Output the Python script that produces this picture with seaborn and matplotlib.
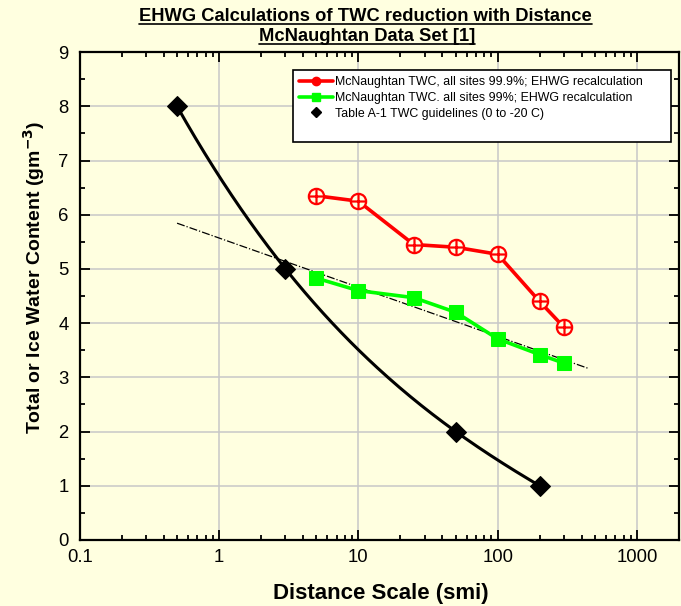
import numpy as np
import pandas as pd
import matplotlib
matplotlib.use('Agg')
import matplotlib.pyplot as plt
import seaborn as sns
from matplotlib.path import Path
from matplotlib.lines import Line2D
from matplotlib.ticker import FixedLocator, FuncFormatter, MultipleLocator, LogLocator, NullFormatter


# data
dist_red = [5, 10, 25, 50, 100, 200, 300]
twc_red = [6.35, 6.25, 5.45, 5.40, 5.27, 4.40, 3.92]

dist_green = [5, 10, 25, 50, 100, 200, 300]
twc_green = [4.83, 4.60, 4.47, 4.20, 3.71, 3.42, 3.26]

dist_table = [0.5, 3, 50, 200]
twc_table = [8, 5, 2, 1]

x_ticks = [0.1, 1, 10, 100, 1000]

label_red = 'McNaughtan TWC, all sites 99.9%; EHWG recalculation'
label_green = 'McNaughtan TWC. all sites 99%; EHWG recalculation'
label_table = 'Table A-1 TWC guidelines (0 to -20 C)'

bg = '#FFFFE0'

# smooth curve through the guideline points (cubic in log distance)
coef = np.polyfit(np.log10(dist_table), twc_table, 3)
xs = np.logspace(np.log10(dist_table[0]), np.log10(dist_table[-1]), 200)
curve = pd.DataFrame({'x': xs, 'y': np.polyval(coef, np.log10(xs))})

# log-linear trend of the 99% series
lin = np.polyfit(np.log10(dist_green), twc_green, 1)
xt = np.logspace(np.log10(0.5), np.log10(450), 50)
trend = pd.DataFrame({'x': xt, 'y': np.polyval(lin, np.log10(xt))})

# circle with a plus inside
oplus = Path.make_compound_path(
    Path.unit_circle(),
    Path([[-1, 0], [1, 0], [0, -1], [0, 1]],
         [Path.MOVETO, Path.LINETO, Path.MOVETO, Path.LINETO]))


# plot
sns.set_style('ticks')
plt.rcParams['font.family'] = ['Liberation Sans', 'DejaVu Sans']
plt.rcParams['text.color'] = 'black'
plt.rcParams['axes.labelcolor'] = 'black'

fig = plt.figure(figsize=(6.81, 6.06), dpi=100, facecolor=bg)
ax = fig.add_axes([0.117, 0.109, 0.88, 0.805], facecolor=bg)
ax.set_xscale('log')

sns.lineplot(x='x', y='y', data=trend, ax=ax, color='black', lw=0.9,
             linestyle='-.', zorder=2)
sns.lineplot(x='x', y='y', data=curve, ax=ax, color='black', lw=2.2, zorder=3)
sns.lineplot(x=dist_table, y=twc_table, ax=ax, color='black', lw=0, marker='D',
             markersize=10, mec='black', zorder=4)

sns.lineplot(x=dist_green, y=twc_green, ax=ax, color='#00FF00', lw=2.6,
             marker='s', markersize=10, mec='#00FF00', zorder=4)
sns.lineplot(x=dist_red, y=twc_red, ax=ax, color='#FF0000', lw=2.6,
             marker=oplus, markersize=11, mfc=bg, mec='#FF0000', mew=1.6, zorder=5)

ax.set_xlim(0.1, 2000)
ax.set_ylim(0, 9)

ax.xaxis.set_major_locator(FixedLocator(x_ticks))
ax.xaxis.set_major_formatter(FuncFormatter(lambda v, p: '%g' % v))
ax.xaxis.set_minor_locator(LogLocator(base=10, subs=np.arange(2, 10)))
ax.xaxis.set_minor_formatter(NullFormatter())
ax.yaxis.set_major_locator(MultipleLocator(1))
ax.yaxis.set_minor_locator(MultipleLocator(0.5))

ax.tick_params(which='both', direction='in', top=True, right=True,
               labelsize=13.3, width=1.3, colors='black')
ax.tick_params(axis='x', pad=6.5)
ax.tick_params(axis='y', pad=8)
ax.tick_params(which='major', length=7)
ax.tick_params(which='minor', length=3.5)

ax.grid(True, which='major', color='#C8C8C8', lw=1.1)
ax.set_axisbelow(True)
for s in ax.spines.values():
    s.set_linewidth(1.6)
    s.set_color('black')

ax.set_xlabel('Distance Scale (smi)', fontsize=16, fontweight='bold')
ax.set_ylabel('Total or Ice Water Content (gm$^\\mathbf{-3}$)', fontsize=14,
              fontweight='bold')
ax.xaxis.set_label_coords(0.502, -0.088)
ax.yaxis.set_label_coords(-0.055, 0.537)

handles = [
    Line2D([], [], color='#FF0000', lw=2.6, marker=oplus, markersize=6,
           mfc='#FF0000', mec='#FF0000'),
    Line2D([], [], color='#00FF00', lw=2.6, marker='s', markersize=5.5),
    Line2D([], [], color='black', lw=0, marker='D', markersize=5.5),
    Line2D([], [], lw=0),
]
# legend box spans roughly x 293-671 px, top at y 69 px
leg = ax.legend(handles, [label_red, label_green, label_table, ' '],
                loc='upper left', bbox_to_anchor=(0.356, 0.0, 0.631, 0.963),
                mode='expand', fontsize=8.9,
                frameon=True, fancybox=False, shadow=False, handlelength=2.7,
                handletextpad=0.2, borderpad=0.5, labelspacing=0.3,
                borderaxespad=0)
leg.get_frame().set_edgecolor('black')
leg.get_frame().set_linewidth(1.2)
leg.get_frame().set_facecolor('white')
leg.get_frame().set_alpha(1)

# underlined two-line title
t1 = fig.text(0.537, 0.972, 'EHWG Calculations of TWC reduction with Distance',
              ha='center', va='center', fontsize=13.2, fontweight='bold')
t2 = fig.text(0.539, 0.940, 'McNaughtan Data Set [1]',
              ha='center', va='center', fontsize=13.2, fontweight='bold')
fig.canvas.draw()
r = fig.canvas.get_renderer()
W, H = fig.bbox.width, fig.bbox.height
for t in (t1, t2):
    bb = t.get_window_extent(r)
    y = (bb.y0 + 1) / H
    fig.add_artist(Line2D([bb.x0 / W, bb.x1 / W], [y, y], color='black',
                          lw=1.2, transform=fig.transFigure))

fig.savefig('out.png', dpi=100, facecolor=bg)
